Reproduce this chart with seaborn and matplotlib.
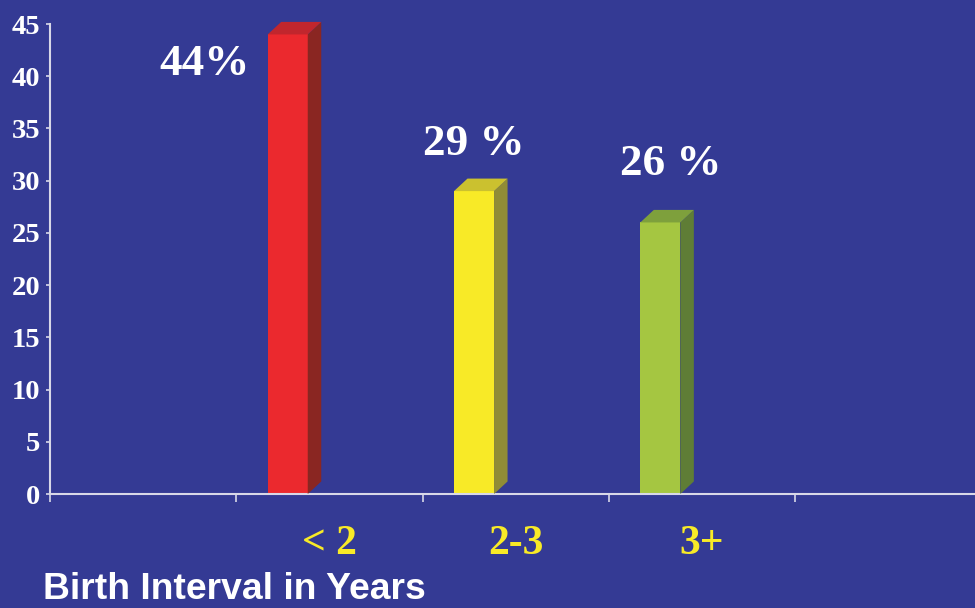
import matplotlib
matplotlib.use("Agg")
import matplotlib.pyplot as plt
from matplotlib.patches import Polygon
from matplotlib.ticker import FixedLocator
import seaborn as sns
import pandas as pd

# data
categories = ["< 2", "2-3", "3+"]
values = [44, 29, 26]
value_labels = ["44%", "29 %", "26 %"]
order = ["", "< 2", "2-3", "3+", " "]   # empty slots either side
y_ticks = [0, 5, 10, 15, 20, 25, 30, 35, 40, 45]

# styling
BG = "#343A94"
front_colors = ["#EB292E", "#F8EA27", "#A5C641"]
side_colors = ["#8A2622", "#908C36", "#5F7D36"]
top_colors = ["#C1262D", "#CBC12F", "#7EA03C"]
label_offsets = [(-83, -41), (0, 36), (10, 47)]  # pixels from bar front top centre

sns.set_theme(style="white")
plt.rcParams["font.family"] = ["Liberation Serif", "DejaVu Serif"]

fig = plt.figure(figsize=(9.75, 6.08), dpi=100)
fig.patch.set_facecolor(BG)
ax = fig.add_axes([50 / 975, 114 / 608, 931.5 / 975, 470 / 608])
ax.set_facecolor(BG)

df = pd.DataFrame({"interval": categories, "pct": values})
sns.barplot(data=df, x="interval", y="pct", order=order, hue="interval",
            hue_order=categories, palette=front_colors, width=0.215,
            legend=False, saturation=1, ax=ax)

ax.set_xlim(-0.5, 4.5)
ax.set_ylim(0, 45)

# shift bars left inside their slot and give them a 3D look
dx, dy = 0.0725, 1.2
bars = [p for p in ax.patches if p.get_height() > 0]
bars.sort(key=lambda p: p.get_x())
for i, p in enumerate(bars):
    p.set_x(p.get_x() - 0.224)
    p.set_edgecolor("none")
    x0, w, h = p.get_x(), p.get_width(), p.get_height()
    x1 = x0 + w
    side = Polygon([(x1, 0), (x1 + dx, dy), (x1 + dx, h + dy), (x1, h)],
                   closed=True, facecolor=side_colors[i], edgecolor="none",
                   clip_on=False, zorder=3)
    top = Polygon([(x0, h), (x0 + dx, h + dy), (x1 + dx, h + dy), (x1, h)],
                  closed=True, facecolor=top_colors[i], edgecolor="none",
                  clip_on=False, zorder=3)
    ax.add_patch(side)
    ax.add_patch(top)
    ox, oy = label_offsets[i]
    ax.annotate(value_labels[i], (x0 + w / 2, h), xytext=(ox, oy),
                textcoords="offset pixels", ha="center", va="baseline",
                color="white", fontsize=32.5, fontweight="bold",
                annotation_clip=False)

# axes styling
for s in ["top", "right"]:
    ax.spines[s].set_visible(False)
for s in ["left", "bottom"]:
    ax.spines[s].set_color("#D8D8E8")
    ax.spines[s].set_linewidth(1.5)

ax.set_yticks(y_ticks)
ax.set_yticklabels([str(t) for t in y_ticks], color="white",
                   fontsize=20.5, fontweight="bold")
ax.tick_params(axis="y", length=3, width=1.2, color="#D8D8E8", pad=4, left=True)

ax.set_xticks(range(len(order)))
ax.set_xticklabels(order, color="#F8EA27", fontsize=30, fontweight="bold")
ax.xaxis.set_minor_locator(FixedLocator([i - 0.5 for i in range(len(order) + 1)]))
ax.tick_params(axis="x", which="major", length=0, pad=22)
ax.tick_params(axis="x", which="minor", length=6, width=1.2, color="#D8D8E8",
               direction="out", bottom=True)
ax.set_xlabel("")
ax.set_ylabel("")

fig.text(43 / 975, 9 / 608, "Birth Interval in Years", color="white",
         fontsize=26.8, fontweight="bold", family=["Liberation Sans", "DejaVu Sans"],
         ha="left", va="baseline")

fig.savefig("out.png", dpi=100, facecolor=BG)
